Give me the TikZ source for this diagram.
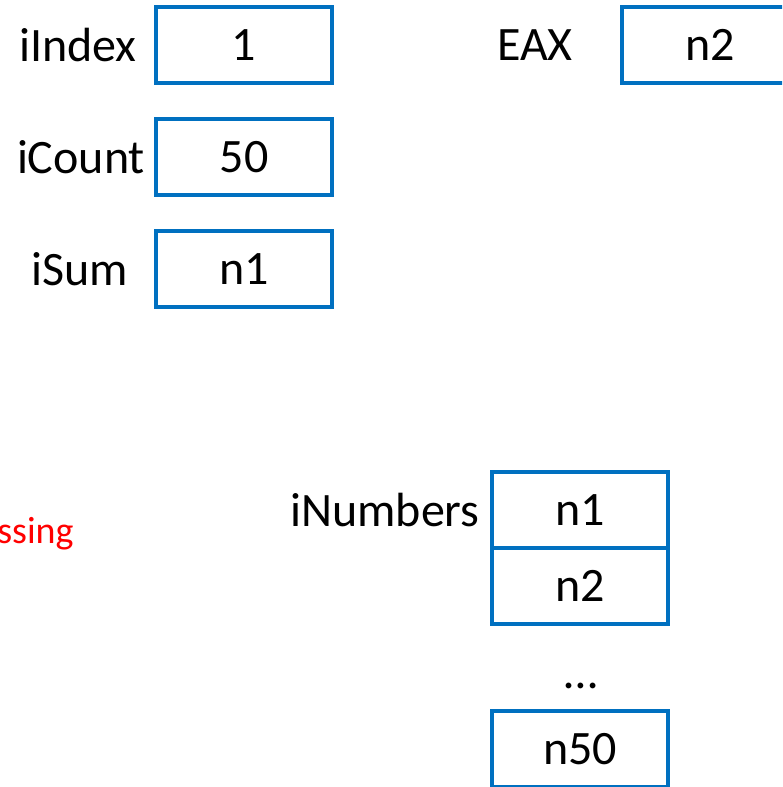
\documentclass[tikz,border=0pt]{standalone}
\usepackage{fontspec}
\setmainfont{Carlito}
\usetikzlibrary{positioning}
\definecolor{cellblue}{RGB}{0,112,192}
\tikzstyle{every node}=[font=\fontsize{24}{28}\selectfont]
\tikzstyle{cell}=[draw=cellblue,line width=2pt,outer sep=0pt,inner sep=0pt,
  minimum width=88pt,minimum height=38pt]
\tikzstyle{varname}=[inner sep=0pt]

\begin{document}
\begin{tikzpicture}[x=0.5pt,y=-0.5pt]
  \useasboundingbox (0,0) rectangle (782,787);
  \clip (0,0) rectangle (782,787);
  % variables in memory
  \node[cell] (idx) at (244,45) {1};
  \node[cell,below=18pt of idx] (cnt) {50};
  \node[cell,below=18pt of cnt] (sum) {n1};
  \node[varname] (idxname) at (78,45) {iIndex};
  \node[varname] (cntname) at (81,157) {iCount};
  \node[varname] (sumname) at (80,269) {iSum};
  % register
  \node[cell] (eax) at (710,45) {n2};
  \node[varname] (eaxname) at (535,45) {EAX};
  % array
  \node[cell] (num1) at (580,510) {n1};
  \node[cell,below=0pt of num1] (num2) {n2};
  \node[varname] (dots) at (581,686) {\dots};
  \node[cell] (num50) at (580,749) {n50};
  \node[varname,left=6pt of num1] (numname) {iNumbers};
  \node[varname,anchor=base east,text=red,font=\fontsize{19}{23}\selectfont] (note) at (74,543) {ssing};
\end{tikzpicture}
\end{document}
